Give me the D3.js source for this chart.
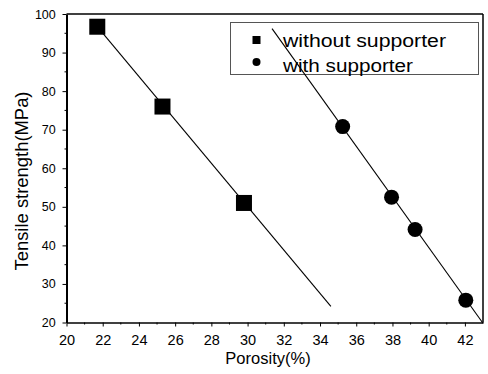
<!DOCTYPE html>
<html><head><meta charset="utf-8">
<script src="https://cdn.jsdelivr.net/npm/d3@7"></script>
<style>body{margin:0;background:#fff}svg{display:block}text{font-family:"Liberation Sans",Arial,sans-serif;fill:#000}</style>
</head><body><svg id="c" width="488" height="374"></svg>
<script>
const withoutX = [21.7, 25.3, 29.8];
const withoutY = [96.7, 76, 51];
const withX = [35.25, 37.95, 39.25, 42.05];
const withY = [70.8, 52.5, 44.1, 25.8];
const fitWithoutX = [21.7, 34.6];
const fitWithoutY = [96.7, 24.2];
const fitWithX = [31.35, 43];
const fitWithY = [96.2, 19.8];
const xTicks = [20,22,24,26,28,30,32,34,36,38,40,42];
const yTicks = [20,30,40,50,60,70,80,90,100];
const seriesNames = ["without supporter","with supporter"];

const svg = d3.select("#c");
const x = d3.scaleLinear().domain([20,43]).range([66.5,483]);
const y = d3.scaleLinear().domain([20,100]).range([322.5,14]);

// frame
svg.append("line").attr("x1",x(20)).attr("x2",x(43)).attr("y1",y(100)).attr("y2",y(100)).attr("stroke","#000").attr("stroke-width",1.5);
svg.append("line").attr("x1",x(43)).attr("x2",x(43)).attr("y1",y(100)).attr("y2",y(20)).attr("stroke","#000").attr("stroke-width",1.5);

const xAxis = svg.append("g").attr("transform",`translate(0,${y(20)})`)
  .call(d3.axisBottom(x).tickValues(xTicks).tickSize(4).tickSizeOuter(0).tickFormat(d3.format("d")));
xAxis.select(".domain").attr("stroke-width",1.5);
xAxis.selectAll("text").attr("font-size",14.5).attr("dy","1.05em");
const yAxis = svg.append("g").attr("transform",`translate(${x(20)},0)`)
  .call(d3.axisLeft(y).tickValues(yTicks).tickSize(4).tickSizeOuter(0).tickFormat(d3.format("d")));
yAxis.select(".domain").attr("stroke-width",2);
yAxis.selectAll("text").attr("font-size",12.5).attr("dx","-0.3em");
// minor ticks
svg.append("g").selectAll("line").data(d3.range(25,100,10)).join("line")
  .attr("x1",x(20)-2).attr("x2",x(20)).attr("y1",d=>y(d)).attr("y2",d=>y(d)).attr("stroke","#000");
svg.append("g").selectAll("line").data(d3.range(21,43,2)).join("line")
  .attr("y1",y(20)).attr("y2",y(20)+2).attr("x1",d=>x(d)).attr("x2",d=>x(d)).attr("stroke","#000");

// titles
svg.append("text").attr("x",268).attr("y",364).attr("text-anchor","middle").attr("font-size",16.5).text("Porosity(%)");
svg.append("text").attr("transform","translate(28,181) rotate(-90)").attr("text-anchor","middle").attr("font-size",18)
  .attr("textLength",179).attr("lengthAdjust","spacingAndGlyphs").text("Tensile strength(MPa)");

// fit lines
const line = d3.line().x(d=>x(d[0])).y(d=>y(d[1]));
svg.append("path").attr("d",line(d3.zip(fitWithoutX,fitWithoutY))).attr("fill","none").attr("stroke","#000").attr("stroke-width",1.1);

// legend
const lg = svg.append("g");
lg.append("rect").attr("x",230.5).attr("y",22.5).attr("width",248).attr("height",52).attr("fill","none").attr("stroke","#555").attr("stroke-width",1);
lg.append("rect").attr("x",252.5).attr("y",36).attr("width",8).attr("height",8).attr("fill","#000");
lg.append("circle").attr("cx",256.5).attr("cy",62).attr("r",4).attr("fill","#000");
lg.append("text").attr("x",283).attr("y",46.5).attr("font-size",18).attr("textLength",163).attr("lengthAdjust","spacingAndGlyphs").text(seriesNames[0]);
lg.append("text").attr("x",283).attr("y",71.5).attr("font-size",18).attr("textLength",130).attr("lengthAdjust","spacingAndGlyphs").text(seriesNames[1]);

svg.append("path").attr("d",line(d3.zip(fitWithX,fitWithY))).attr("fill","none").attr("stroke","#000").attr("stroke-width",1.1);

// markers
svg.append("g").selectAll("rect").data(d3.zip(withoutX,withoutY)).join("rect")
  .attr("x",d=>x(d[0])-8).attr("y",d=>y(d[1])-8).attr("width",16).attr("height",16).attr("fill","#000");
svg.append("g").selectAll("circle").data(d3.zip(withX,withY)).join("circle")
  .attr("cx",d=>x(d[0])).attr("cy",d=>y(d[1])).attr("r",7.5).attr("fill","#000");
</script></body></html>
